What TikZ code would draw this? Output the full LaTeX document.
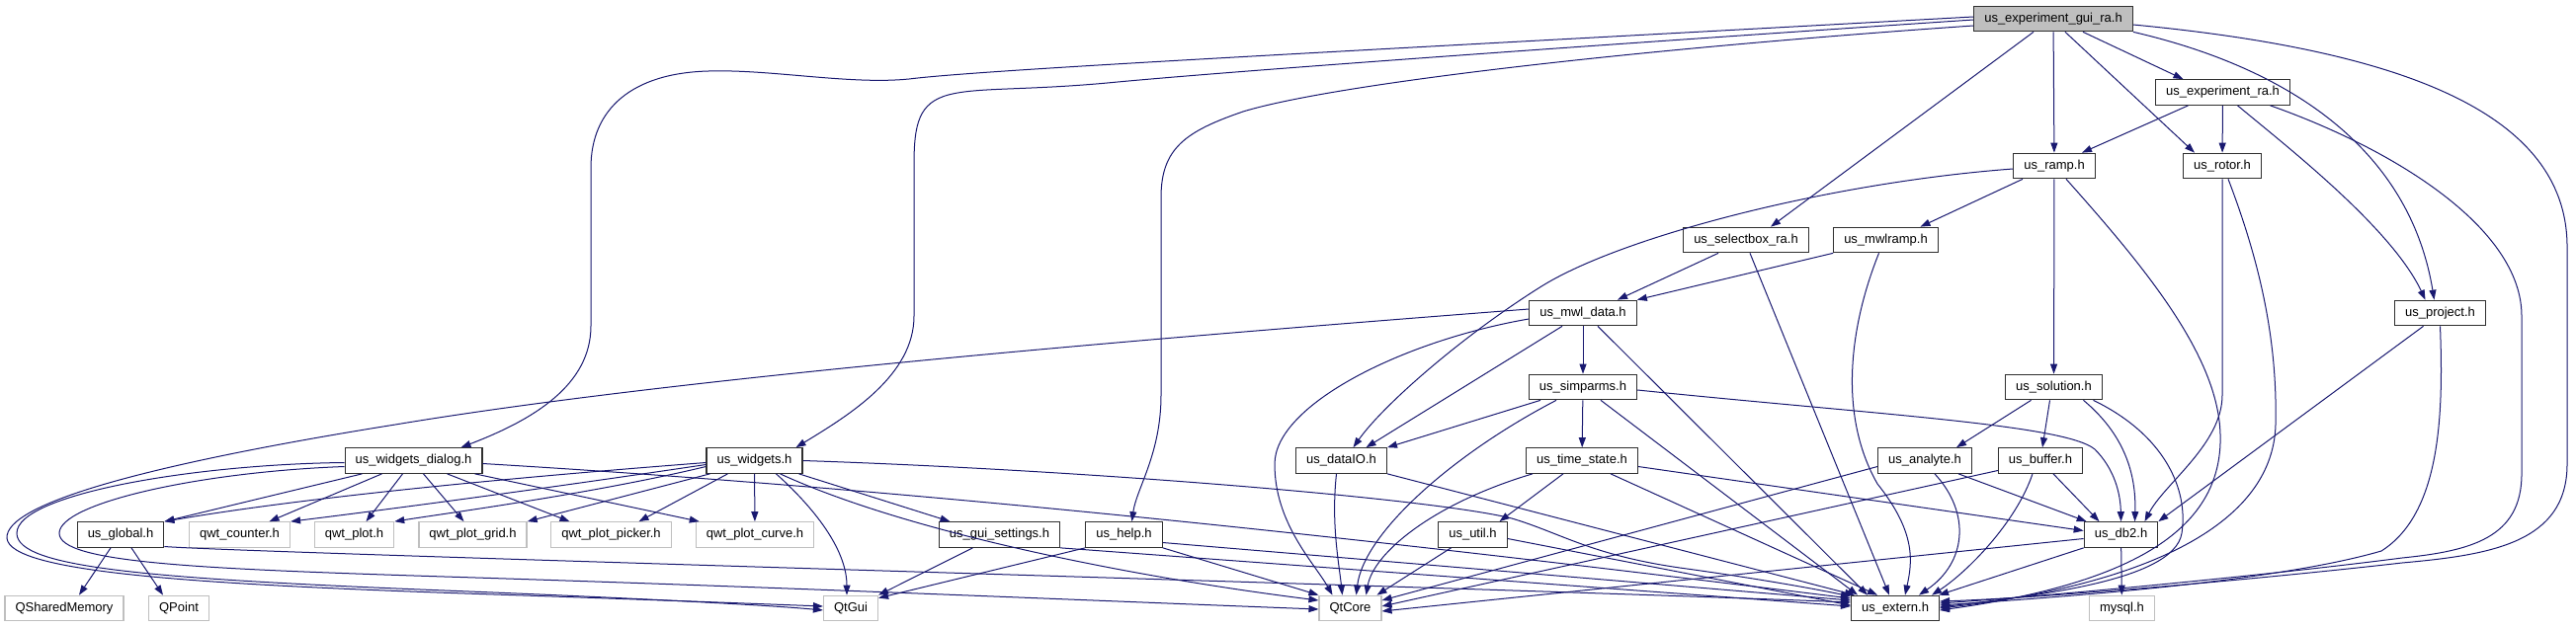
\documentclass[tikz,border=0pt]{standalone}
\usepackage{fontspec}
\setmainfont{Liberation Sans}
\usetikzlibrary{arrows.meta}
\definecolor{edgec}{HTML}{191970}
\definecolor{grayb}{HTML}{BFBFBF}
\definecolor{boxb}{HTML}{303030}
\begin{document}
\begin{tikzpicture}[x=1pt,y=-1pt,
  box/.style={draw=boxb, line width=1.2pt, fill=white, font=\fontsize{13}{15}\selectfont,
    minimum height=25.5pt, inner xsep=10.5pt, inner ysep=0pt, text height=9.5pt, text depth=2.6pt},
  extbox/.style={box, draw=grayb},
  dep/.style={draw=edgec, line width=1pt, -{Triangle[length=10pt,width=7pt]}}]
\fill[white] (0,0) rectangle (2607,635);
\useasboundingbox (0,0) rectangle (2607,635);

% nodes
\node[box, fill=grayb] (gui) at (2078,19) {us\_experiment\_gui\_ra.h};
\node[box] (exp) at (2249.5,93.5) {us\_experiment\_ra.h};
\node[box] (ramp) at (2079,168) {us\_ramp.h};
\node[box] (rotor) at (2249,168) {us\_rotor.h};
\node[box] (sel) at (1767,243) {us\_selectbox\_ra.h};
\node[box] (mwlramp) at (1908.5,243) {us\_mwlramp.h};
\node[box] (project) at (2469.5,317) {us\_project.h};
\node[box] (mwldata) at (1602,317) {us\_mwl\_data.h};
\node[box] (solution) at (2078.5,392) {us\_solution.h};
\node[box] (simparms) at (1602,392) {us\_simparms.h};
\node[box] (dataio) at (1357.5,466.5) {us\_dataIO.h};
\node[box] (timestate) at (1601,466.5) {us\_time\_state.h};
\node[box] (analyte) at (1948,466.5) {us\_analyte.h};
\node[box] (buffer) at (2065,466.5) {us\_buffer.h};
\node[box] (wd) at (418.5,466.5) {us\_widgets\_dialog.h};
\node[box] (widgets) at (763.5,466.5) {us\_widgets.h};
\node[box] (global) at (122,541.5) {us\_global.h};
\node[extbox] (counter) at (242.5,541.5) {qwt\_counter.h};
\node[extbox] (plot) at (358.5,541.5) {qwt\_plot.h};
\node[extbox] (grid) at (478.5,541.5) {qwt\_plot\_grid.h};
\node[extbox] (picker) at (618.5,541.5) {qwt\_plot\_picker.h};
\node[extbox] (curve) at (764,541.5) {qwt\_plot\_curve.h};
\node[box] (guiset) at (1011.5,541.5) {us\_gui\_settings.h};
\node[box] (help) at (1137.5,541.5) {us\_help.h};
\node[box] (util) at (1490.5,541.5) {us\_util.h};
\node[box] (db2) at (2146.5,541.5) {us\_db2.h};
\node[extbox] (qsm) at (65,616) {QSharedMemory};
\node[extbox] (qpoint) at (181,616) {QPoint};
\node[extbox] (qtgui) at (861,616) {QtGui};
\node[extbox] (qtcore) at (1366.5,616) {QtCore};
\node[box] (usext) at (1918,616) {us\_extern.h};
\node[extbox] (mysql) at (2147.5,616) {mysql.h};

% gui
\draw[dep] ([yshift=2pt]gui.west) .. controls (1400,50) and (1000,70) .. (920,80) .. controls (860,86) and (780,70) .. (717,72) .. controls (640,74) and (598,110) .. (598,170) -- (598,330) .. controls (598,390) and (540,425) .. ([xshift=48pt]wd.north);
\draw[dep] ([yshift=-1pt]gui.west) .. controls (1550,50) and (1250,72) .. (1131,83) .. controls (1040,92) and (990,88) .. (960,96) .. controls (930,104) and (925,125) .. (925,167) -- (925,320) .. controls (925,380) and (860,420) .. ([xshift=42pt]widgets.north);
\draw[dep] ([yshift=-7pt]gui.west) .. controls (1650,50) and (1350,85) .. (1258,113) .. controls (1200,133) and (1175,150) .. (1175,200) -- (1175,400) .. controls (1175,460) and (1150,495) .. ([xshift=8pt]help.north);
\draw[dep] ([xshift=-20pt]gui.south) -- ([xshift=25pt]sel.north);
\draw[dep] (gui) -- (ramp);
\draw[dep] ([xshift=12pt]gui.south) -- ([xshift=-28pt]rotor.north);
\draw[dep] ([xshift=30pt]gui.south) -- ([xshift=-40pt]exp.north);
\draw[dep] (gui.south east) .. controls (2330,72) and (2440,160) .. ([xshift=-6pt]project.north);
\draw[dep] ([yshift=-6pt]gui.east) .. controls (2420,50) and (2598,110) .. (2598,250) -- (2598,470) .. controls (2598,550) and (2520,562) .. (2431,570) .. controls (2300,585) and (2080,605) .. ([yshift=7pt]usext.east);

% exp
\draw[dep] ([xshift=-35pt]exp.south) -- ([xshift=28pt]ramp.north);
\draw[dep] (exp) -- (rotor);
\draw[dep] ([xshift=15pt]exp.south) .. controls (2310,145) and (2420,230) .. ([xshift=-15pt]project.north);
\draw[dep] ([xshift=48pt]exp.south) .. controls (2420,150) and (2552,230) .. (2552,320) -- (2552,480) .. controls (2552,545) and (2500,558) .. (2431,565) .. controls (2300,582) and (2080,603) .. ([yshift=5pt]usext.east);

% ramp
\draw[dep] ([yshift=-3pt]ramp.west) .. controls (1850,185) and (1640,240) .. (1560,290) .. controls (1480,340) and (1400,410) .. ([xshift=12pt]dataio.north);
\draw[dep] ([xshift=-32pt]ramp.south) -- ([xshift=35pt]mwlramp.north);
\draw[dep] (ramp) -- (solution);
\draw[dep] ([xshift=12pt]ramp.south) .. controls (2170,270) and (2245,360) .. (2247,440) .. controls (2250,540) and (2150,592) .. ([yshift=-2pt]usext.east);

% rotor
\draw[dep] (rotor.south) -- (2249,400) .. controls (2249,450) and (2190,490) .. ([xshift=24pt]db2.north);
\draw[dep] ([xshift=6pt]rotor.south) .. controls (2285,260) and (2305,340) .. (2303,430) .. controls (2300,540) and (2150,595) .. (usext.east);

% selectbox, mwlramp
\draw[dep] ([xshift=-28pt]sel.south) -- ([xshift=35pt]mwldata.north);
\draw[dep] ([xshift=4pt]sel.south) -- ([xshift=-6pt]usext.north);
\draw[dep] (mwlramp.south west) -- (mwldata.north east);
\draw[dep] ([xshift=-7pt]mwlramp.south) .. controls (1872,330) and (1860,420) .. (1900,490) .. controls (1940,540) and (1935,570) .. ([xshift=10pt]usext.north);

% mwl_data
\draw[dep] ([yshift=4pt]mwldata.west) .. controls (1200,340) and (700,380) .. (400,430) .. controls (150,470) and (5,510) .. (7,545) .. controls (10,580) and (200,592) .. (500,602) .. controls (650,607) and (780,612) .. ([yshift=2pt]qtgui.west);
\draw[dep] ([yshift=-6pt]mwldata.west) .. controls (1420,345) and (1290,410) .. (1290,470) .. controls (1290,530) and (1330,570) .. ([xshift=-18pt]qtcore.north);
\draw[dep] ([xshift=-21pt]mwldata.south) -- ([xshift=25pt]dataio.north);
\draw[dep] (mwldata) -- (simparms);
\draw[dep] ([xshift=15pt]mwldata.south) -- ([xshift=-28pt]usext.north);

% simparms
\draw[dep] ([xshift=-43pt]simparms.south) -- (dataio.north east);
\draw[dep] (simparms) -- (timestate);
\draw[dep] ([xshift=-27pt]simparms.south) .. controls (1470,460) and (1380,540) .. ([xshift=6pt]qtcore.north);
\draw[dep] ([xshift=18pt]simparms.south) -- ([xshift=-38pt]usext.north);
\draw[dep] ([yshift=-3pt]simparms.east) .. controls (1900,420) and (2090,430) .. (2120,455) .. controls (2140,475) and (2146,500) .. (db2.north);

% dataIO
\draw[dep] ([xshift=-5pt]dataio.south) .. controls (1347,530) and (1355,570) .. ([xshift=-8pt]qtcore.north);
\draw[dep] (dataio.south east) -- ([xshift=4pt]usext.north west);

% time_state
\draw[dep] ([xshift=-19pt]timestate.south) -- ([xshift=27pt]util.north);
\draw[dep] ([xshift=-50pt]timestate.south) .. controls (1450,510) and (1390,560) .. ([xshift=16pt]qtcore.north);
\draw[dep] ([xshift=29pt]timestate.south) -- ([xshift=-18pt]usext.north);
\draw[dep] ([yshift=-6pt]timestate.east) -- ([yshift=4pt]db2.west);

% util
\draw[dep] ([xshift=-22pt]util.south) -- ([xshift=27pt]qtcore.north);
\draw[dep] ([yshift=-4pt]util.east) -- ([yshift=3pt]usext.west);

% solution
\draw[dep] ([xshift=-23pt]solution.south) -- ([xshift=32pt]analyte.north);
\draw[dep] ([xshift=-4pt]solution.south) -- ([xshift=2pt]buffer.north);
\draw[dep] ([xshift=30pt]solution.south) .. controls (2150,440) and (2162,480) .. ([xshift=14pt]db2.north);
\draw[dep] ([xshift=40pt]solution.south) .. controls (2190,440) and (2215,495) .. (2208,540) .. controls (2200,590) and (2050,604) .. ([yshift=1pt]usext.east);

% analyte
\draw[dep] ([yshift=-6pt]analyte.west) -- ([yshift=8pt]qtcore.east);
\draw[dep] ([xshift=10pt]analyte.south) .. controls (1995,520) and (1990,570) .. ([xshift=24pt]usext.north);
\draw[dep] ([xshift=34pt]analyte.south) -- ([xshift=3pt]db2.north west);

% buffer
\draw[dep] ([yshift=-10pt]buffer.west) -- ([yshift=2pt]qtcore.east);
\draw[dep] ([xshift=-8pt]buffer.south) .. controls (2040,530) and (1990,580) .. ([xshift=-8pt]usext.north east);
\draw[dep] ([xshift=13pt]buffer.south) -- ([xshift=-22pt]db2.north);

% db2
\draw[dep] ([yshift=-4pt]db2.west) -- ([yshift=-3pt]qtcore.east);
\draw[dep] (db2.south west) -- ([xshift=-1pt]usext.north east);
\draw[dep] (db2) -- (mysql);

% project
\draw[dep] ([xshift=-17pt]project.south) -- (db2.north east);
\draw[dep] (project.south) .. controls (2473,420) and (2470,520) .. (2410,558) .. controls (2300,590) and (2080,605) .. ([yshift=3pt]usext.east);

% widgets_dialog
\draw[dep] ([xshift=-52pt]wd.south) -- (global.north east);
\draw[dep] ([xshift=-32pt]wd.south) -- ([xshift=30pt]counter.north);
\draw[dep] ([xshift=-11pt]wd.south) -- ([xshift=12pt]plot.north);
\draw[dep] ([xshift=10pt]wd.south) -- ([xshift=-9pt]grid.north);
\draw[dep] ([xshift=34pt]wd.south) -- ([xshift=-42pt]picker.north);
\draw[dep] ([xshift=-8pt]wd.south east) -- ([xshift=4pt]curve.north west);
\draw[dep] ([yshift=-2pt]wd.west) .. controls (200,470) and (17,500) .. (17,540) .. controls (17,575) and (150,586) .. (450,598) .. controls (650,606) and (780,613) .. ([yshift=-2pt]qtgui.west);
\draw[dep] ([yshift=-6pt]wd.west) .. controls (200,478) and (60,510) .. (60,540) .. controls (60,570) and (200,576) .. (450,584) .. controls (800,595) and (1100,608) .. ([yshift=-1pt]qtcore.west);
\draw[dep] ([yshift=-3pt]wd.east) .. controls (1000,500) and (1500,560) .. ([yshift=10pt]usext.west);

% widgets
\draw[dep] ([yshift=-2pt]widgets.west) .. controls (500,485) and (300,505) .. (global.north east);
\draw[dep] ([yshift=-4pt]widgets.west) .. controls (550,495) and (400,515) .. (counter.north east);
\draw[dep] ([yshift=-6pt]widgets.west) .. controls (600,500) and (450,520) .. (plot.north east);
\draw[dep] ([xshift=-45pt]widgets.south) -- (grid.north east);
\draw[dep] ([xshift=-27pt]widgets.south) -- ([xshift=28pt]picker.north);
\draw[dep] (widgets) -- (curve);
\draw[dep] ([xshift=22pt]widgets.south) .. controls (830,520) and (857,560) .. ([xshift=-4pt]qtgui.north);
\draw[dep] ([xshift=26pt]widgets.south) .. controls (920,540) and (1150,585) .. ([yshift=8pt]qtcore.west);
\draw[dep] ([xshift=45pt]widgets.south) -- ([xshift=-50pt]guiset.north);
\draw[dep] (widgets.east) .. controls (1100,476) and (1450,505) .. (1530,525) .. controls (1580,540) and (1610,562) .. (1700,575) .. controls (1780,586) and (1840,597) .. ([yshift=12pt]usext.west);

% global
\draw[dep] ([xshift=-10pt]global.south) -- ([xshift=15pt]qsm.north);
\draw[dep] ([xshift=11pt]global.south) -- ([xshift=-16pt]qpoint.north);
\draw[dep] ([yshift=-12pt]global.east) .. controls (250,560) and (1500,595) .. ([yshift=6pt]usext.west);

% gui_settings, help
\draw[dep] ([xshift=-27pt]guiset.south) -- (qtgui.north east);
\draw[dep] (guiset.south east) -- ([yshift=2pt]usext.west);
\draw[dep] (help.south west) -- ([yshift=-3pt]qtgui.north east);
\draw[dep] (help.south east) -- (qtcore.north west);
\draw[dep] ([yshift=-8pt]help.east) -- ([yshift=8pt]usext.west);
\end{tikzpicture}
\end{document}
